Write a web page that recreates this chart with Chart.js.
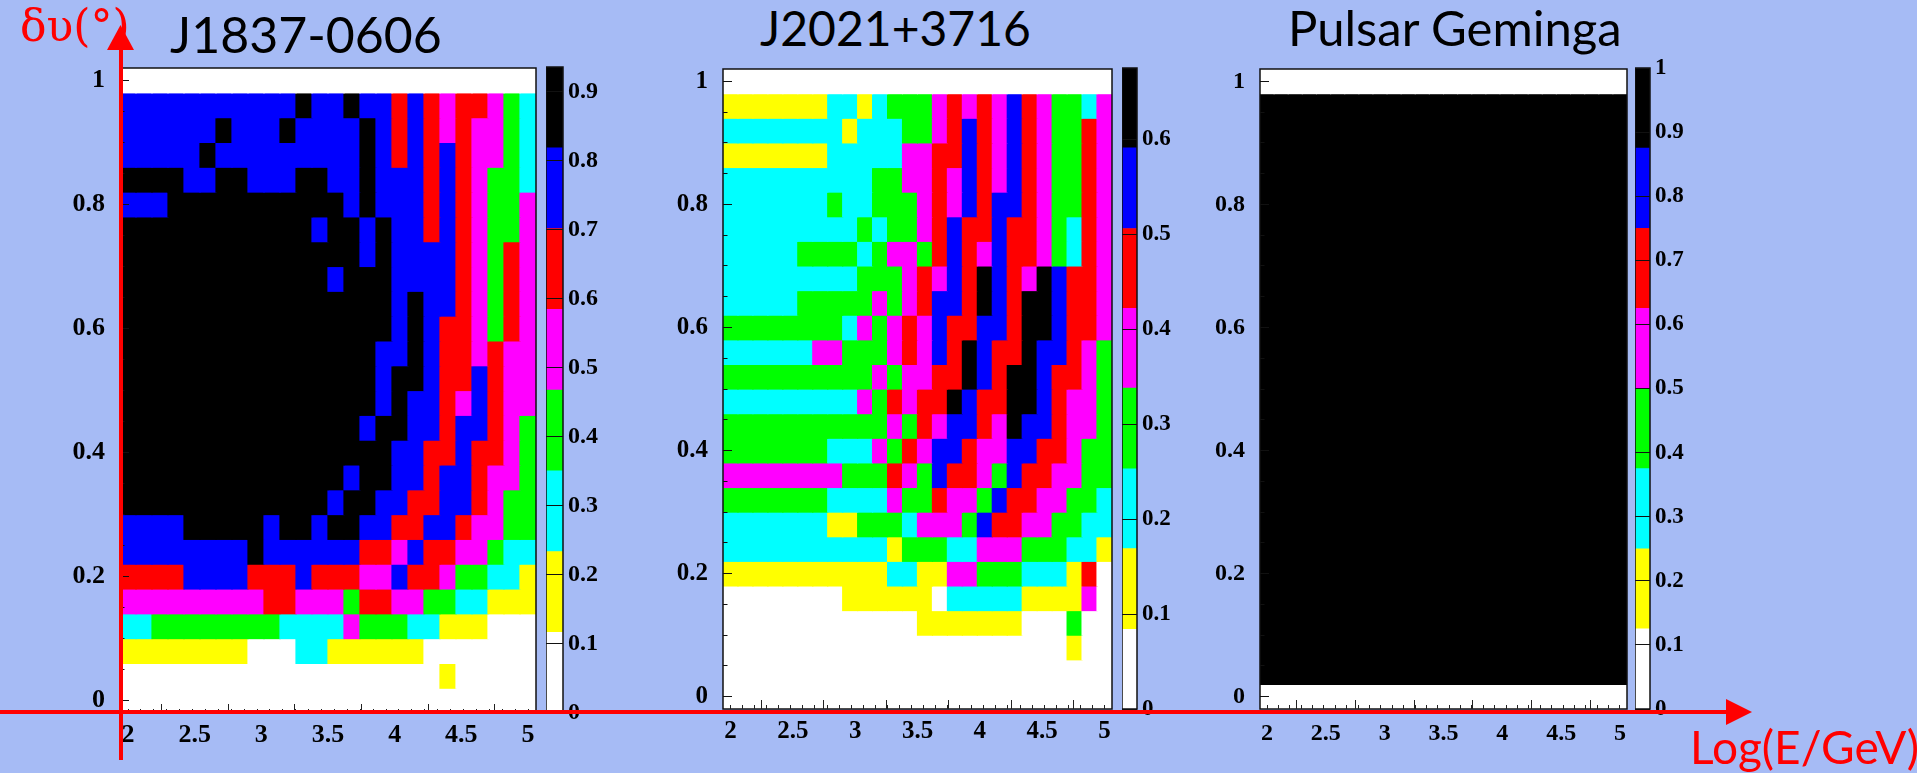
<!DOCTYPE html>
<html>
<head>
<meta charset="utf-8">
<title>Pulsar sky maps</title>
<script src="https://cdn.jsdelivr.net/npm/chart.js@4"></script>
<style>
    html, body { margin: 0; padding: 0; width: 1917px; height: 773px; overflow: hidden; background: #a6bbf5; }
    canvas { position: absolute; }
    .title { position: absolute; font-family: 'Lato', sans-serif; color: #000; white-space: nowrap; line-height: 1; }
    .redText { position: absolute; font-family: 'Lato', sans-serif; color: #f00; white-space: nowrap; line-height: 1; z-index: 5; }
    #arrows { position: absolute; left: 0; top: 0; z-index: 4; }
</style>
</head>
<body>
<canvas id="map1"></canvas><canvas id="bar1"></canvas>
<canvas id="map2"></canvas><canvas id="bar2"></canvas>
<canvas id="map3"></canvas><canvas id="bar3"></canvas>

<div class="title" style="left:170px;top:9px;font-size:50px">J1837-0606</div>
<div class="title" style="left:760px;top:4px;font-size:48px">J2021+3716</div>
<div class="title" style="left:1288px;top:3px;font-size:49px">Pulsar Geminga</div>
<div class="redText" style="left:20px;top:4px;font-size:44px;font-family:'DejaVu Serif',serif">δυ(°)</div>
<div class="redText" style="left:1690px;top:724px;font-size:46px">Log(E/GeV)</div>

<svg id="arrows" width="1917" height="773">
    <rect x="119" y="40" width="4" height="720" fill="#f00"/>
    <polygon points="120.5,25 107,50 134,50" fill="#f00"/>
    <rect x="0" y="710" width="1730" height="4" fill="#f00"/>
    <polygon points="1752,712 1726,699 1726,725" fill="#f00"/>
</svg>

<script>
// bin centres, shared by the three maps
const energyBins = [2.00, 2.12, 2.24, 2.36, 2.48, 2.60, 2.72, 2.84, 2.96, 3.08, 3.20, 3.32, 3.44,
    3.56, 3.68, 3.80, 3.92, 4.04, 4.16, 4.28, 4.40, 4.52, 4.64, 4.76, 4.88, 5.00];
const offsetBins = [1.00, 0.96, 0.92, 0.88, 0.84, 0.80, 0.76, 0.72, 0.68, 0.64, 0.60, 0.56, 0.52,
    0.48, 0.44, 0.40, 0.36, 0.32, 0.28, 0.24, 0.20, 0.16, 0.12, 0.08, 0.04, 0.00];

// colour band of each cell: 0 lowest ... 7 highest. Rows go top to bottom
const j1837Cells = [
    [0,0,0,0,0,0,0,0,0,0,0,0,0,0,0,0,0,0,0,0,0,0,0,0,0,0],
    [6,6,6,6,6,6,6,6,6,6,6,7,6,6,7,6,6,5,6,5,4,5,5,4,3,2],
    [6,6,6,6,6,6,7,6,6,6,7,6,6,6,6,7,6,5,6,5,4,5,4,4,3,2],
    [6,6,6,6,6,7,6,6,6,6,6,6,6,6,6,7,6,5,6,5,6,5,4,4,3,2],
    [7,7,7,7,6,6,7,7,6,6,6,7,7,6,6,7,6,6,6,5,6,5,4,3,3,2],
    [6,6,6,7,7,7,7,7,7,7,7,7,7,7,6,7,6,6,6,5,6,5,4,3,3,4],
    [7,7,7,7,7,7,7,7,7,7,7,7,6,7,7,6,7,6,6,5,6,5,4,3,3,4],
    [7,7,7,7,7,7,7,7,7,7,7,7,7,7,7,6,7,6,6,6,6,5,4,3,5,4],
    [7,7,7,7,7,7,7,7,7,7,7,7,7,6,7,7,7,6,6,6,6,5,4,3,5,4],
    [7,7,7,7,7,7,7,7,7,7,7,7,7,7,7,7,7,6,7,6,6,5,4,3,5,4],
    [7,7,7,7,7,7,7,7,7,7,7,7,7,7,7,7,7,6,7,6,5,5,4,3,5,4],
    [7,7,7,7,7,7,7,7,7,7,7,7,7,7,7,7,6,6,7,6,5,5,4,5,4,4],
    [7,7,7,7,7,7,7,7,7,7,7,7,7,7,7,7,6,7,7,6,5,5,6,5,4,4],
    [7,7,7,7,7,7,7,7,7,7,7,7,7,7,7,7,6,7,6,6,5,4,6,5,4,4],
    [7,7,7,7,7,7,7,7,7,7,7,7,7,7,7,6,7,7,6,6,5,6,6,5,4,3],
    [7,7,7,7,7,7,7,7,7,7,7,7,7,7,7,7,7,6,6,5,5,6,5,5,4,3],
    [7,7,7,7,7,7,7,7,7,7,7,7,7,7,6,7,7,6,6,5,6,6,5,4,4,3],
    [7,7,7,7,7,7,7,7,7,7,7,7,7,6,7,7,6,6,5,5,6,6,5,4,3,3],
    [6,6,6,6,7,7,7,7,7,6,7,7,6,7,7,6,6,5,5,6,6,5,4,4,3,3],
    [6,6,6,6,6,6,6,6,7,6,6,6,6,6,6,5,5,4,6,5,5,4,4,3,2,2],
    [5,5,5,5,6,6,6,6,5,5,5,6,5,5,5,4,4,6,5,5,4,3,3,2,2,1],
    [4,4,4,4,4,4,4,4,4,5,5,4,4,4,3,5,5,4,4,3,3,2,2,1,1,1],
    [2,2,3,3,3,3,3,3,3,3,2,2,2,2,4,3,3,3,2,2,1,1,1,0,0,0],
    [1,1,1,1,1,1,1,1,0,0,0,2,2,1,1,1,1,1,1,0,0,0,0,0,0,0],
    [0,0,0,0,0,0,0,0,0,0,0,0,0,0,0,0,0,0,0,0,1,0,0,0,0,0],
    [0,0,0,0,0,0,0,0,0,0,0,0,0,0,0,0,0,0,0,0,0,0,0,0,0,0]
];
const j2021Cells = [
    [0,0,0,0,0,0,0,0,0,0,0,0,0,0,0,0,0,0,0,0,0,0,0,0,0,0],
    [1,1,1,1,1,1,1,2,2,1,2,3,3,3,4,5,4,5,4,6,5,4,3,3,2,4],
    [2,2,2,2,2,2,2,2,1,2,2,2,3,3,4,5,6,5,4,6,5,4,3,3,5,4],
    [1,1,1,1,1,1,1,2,2,2,2,2,4,4,5,5,6,5,4,6,5,4,3,3,5,4],
    [2,2,2,2,2,2,2,2,2,2,3,3,4,4,5,4,6,5,4,6,5,4,3,3,5,4],
    [2,2,2,2,2,2,2,3,2,2,3,3,3,4,5,4,6,5,6,6,5,4,3,3,5,4],
    [2,2,2,2,2,2,2,2,2,3,2,3,3,4,5,6,5,5,6,5,5,4,3,2,5,4],
    [2,2,2,2,2,3,3,3,3,2,3,4,4,3,5,6,5,4,6,5,5,4,3,2,5,4],
    [2,2,2,2,2,2,2,2,2,3,3,3,4,5,4,6,5,7,6,5,4,7,6,5,5,4],
    [2,2,2,2,2,3,3,3,3,3,4,3,4,5,6,6,5,7,6,5,7,7,6,5,5,4],
    [3,3,3,3,3,3,3,3,2,4,3,4,5,4,6,5,5,6,6,5,7,7,6,5,5,4],
    [2,2,2,2,2,2,4,4,3,3,3,4,5,4,6,5,7,6,5,5,7,6,6,5,4,3],
    [3,3,3,3,3,3,3,3,3,3,4,3,4,4,5,5,7,6,5,7,7,6,5,5,4,3],
    [2,2,2,2,2,2,2,2,2,4,3,5,4,5,5,7,6,5,5,7,7,6,5,4,4,3],
    [3,3,3,3,3,3,3,3,3,3,3,4,3,5,4,6,6,5,4,7,6,6,5,4,4,3],
    [3,3,3,3,3,3,3,2,2,2,4,3,5,4,6,6,5,4,4,6,6,5,5,4,3,3],
    [4,4,4,4,4,4,4,4,3,3,3,5,4,3,6,5,5,4,3,6,5,5,4,4,3,3],
    [3,3,3,3,3,3,3,2,2,2,2,4,3,3,5,4,4,3,6,5,5,4,4,3,3,2],
    [2,2,2,2,2,2,2,1,1,3,3,3,2,4,4,4,3,6,5,5,4,4,3,3,2,2],
    [2,2,2,2,2,2,2,2,2,2,2,1,3,3,3,2,2,4,4,4,3,3,3,2,2,1],
    [1,1,1,1,1,1,1,1,1,1,1,2,2,1,1,4,4,3,3,3,2,2,2,1,5,0],
    [0,0,0,0,0,0,0,0,1,1,1,1,1,1,0,2,2,2,2,2,1,1,1,1,4,0],
    [0,0,0,0,0,0,0,0,0,0,0,0,0,1,1,1,1,1,1,1,0,0,0,3,0,0],
    [0,0,0,0,0,0,0,0,0,0,0,0,0,0,0,0,0,0,0,0,0,0,0,1,0,0],
    [0,0,0,0,0,0,0,0,0,0,0,0,0,0,0,0,0,0,0,0,0,0,0,0,0,0],
    [0,0,0,0,0,0,0,0,0,0,0,0,0,0,0,0,0,0,0,0,0,0,0,0,0,0]
];
const gemingaCells = [
    [0,0,0,0,0,0,0,0,0,0,0,0,0,0,0,0,0,0,0,0,0,0,0,0,0,0],
    [7,7,7,7,7,7,7,7,7,7,7,7,7,7,7,7,7,7,7,7,7,7,7,7,7,7],
    [7,7,7,7,7,7,7,7,7,7,7,7,7,7,7,7,7,7,7,7,7,7,7,7,7,7],
    [7,7,7,7,7,7,7,7,7,7,7,7,7,7,7,7,7,7,7,7,7,7,7,7,7,7],
    [7,7,7,7,7,7,7,7,7,7,7,7,7,7,7,7,7,7,7,7,7,7,7,7,7,7],
    [7,7,7,7,7,7,7,7,7,7,7,7,7,7,7,7,7,7,7,7,7,7,7,7,7,7],
    [7,7,7,7,7,7,7,7,7,7,7,7,7,7,7,7,7,7,7,7,7,7,7,7,7,7],
    [7,7,7,7,7,7,7,7,7,7,7,7,7,7,7,7,7,7,7,7,7,7,7,7,7,7],
    [7,7,7,7,7,7,7,7,7,7,7,7,7,7,7,7,7,7,7,7,7,7,7,7,7,7],
    [7,7,7,7,7,7,7,7,7,7,7,7,7,7,7,7,7,7,7,7,7,7,7,7,7,7],
    [7,7,7,7,7,7,7,7,7,7,7,7,7,7,7,7,7,7,7,7,7,7,7,7,7,7],
    [7,7,7,7,7,7,7,7,7,7,7,7,7,7,7,7,7,7,7,7,7,7,7,7,7,7],
    [7,7,7,7,7,7,7,7,7,7,7,7,7,7,7,7,7,7,7,7,7,7,7,7,7,7],
    [7,7,7,7,7,7,7,7,7,7,7,7,7,7,7,7,7,7,7,7,7,7,7,7,7,7],
    [7,7,7,7,7,7,7,7,7,7,7,7,7,7,7,7,7,7,7,7,7,7,7,7,7,7],
    [7,7,7,7,7,7,7,7,7,7,7,7,7,7,7,7,7,7,7,7,7,7,7,7,7,7],
    [7,7,7,7,7,7,7,7,7,7,7,7,7,7,7,7,7,7,7,7,7,7,7,7,7,7],
    [7,7,7,7,7,7,7,7,7,7,7,7,7,7,7,7,7,7,7,7,7,7,7,7,7,7],
    [7,7,7,7,7,7,7,7,7,7,7,7,7,7,7,7,7,7,7,7,7,7,7,7,7,7],
    [7,7,7,7,7,7,7,7,7,7,7,7,7,7,7,7,7,7,7,7,7,7,7,7,7,7],
    [7,7,7,7,7,7,7,7,7,7,7,7,7,7,7,7,7,7,7,7,7,7,7,7,7,7],
    [7,7,7,7,7,7,7,7,7,7,7,7,7,7,7,7,7,7,7,7,7,7,7,7,7,7],
    [7,7,7,7,7,7,7,7,7,7,7,7,7,7,7,7,7,7,7,7,7,7,7,7,7,7],
    [7,7,7,7,7,7,7,7,7,7,7,7,7,7,7,7,7,7,7,7,7,7,7,7,7,7],
    [7,7,7,7,7,7,7,7,7,7,7,7,7,7,7,7,7,7,7,7,7,7,7,7,7,7],
    [0,0,0,0,0,0,0,0,0,0,0,0,0,0,0,0,0,0,0,0,0,0,0,0,0,0]
];

// edges of the colour bands on each colour bar
const j1837Bands = [0, 0.117, 0.234, 0.351, 0.468, 0.585, 0.702, 0.819, 0.936];
const j2021Bands = [0, 0.084, 0.169, 0.253, 0.338, 0.422, 0.506, 0.591, 0.675];
const gemingaBands = [0, 0.125, 0.25, 0.375, 0.5, 0.625, 0.75, 0.875, 1];

const bandColors = ['#ffffff', '#ffff00', '#00ffff', '#00ff00', '#ff00ff', '#ff0000', '#0000ff', '#000000'];

const binHalfHeight = 0.02;
const labelFont = 'Liberation Serif';

function placeCanvas(canvas, left, top, width, height) {
    canvas.width = width;
    canvas.height = height;
    canvas.style.left = left + 'px';
    canvas.style.top = top + 'px';
}

// tick padding also counts as scale padding in the layout, which would shrink the plot
function clearPadding(scale) {
    scale.paddingTop = 0;
    scale.paddingBottom = 0;
    scale.paddingLeft = 0;
    scale.paddingRight = 0;
}

// black box round the plot, drawn over the cells
const frameBox = {
    id: 'frameBox',
    afterDatasetsDraw(chart) {
        const a = chart.chartArea;
        chart.ctx.save();
        chart.ctx.strokeStyle = '#111';
        chart.ctx.lineWidth = 1.5;
        chart.ctx.strokeRect(a.left, a.top, a.right - a.left, a.bottom - a.top);
        chart.ctx.restore();
    }
};

function renderMap(id, cells, box, fontSize, xPadding) {
    const padLeft = 70, padBottom = 48, padTop = 2, padRight = 2;
    const canvas = document.getElementById(id);
    placeCanvas(canvas, box.left - padLeft, box.top - padTop,
        padLeft + box.right - box.left + padRight, padTop + box.bottom - box.top + padBottom);

    const datasets = cells.map((row, r) => ({
        data: row.map((band, c) => ({
            x: energyBins[c],
            y: [offsetBins[r] - binHalfHeight, offsetBins[r] + binHalfHeight]
        })),
        backgroundColor: row.map(band => bandColors[band]),
        borderWidth: 0,
        inflateAmount: 0.6,
        grouped: false,
        barPercentage: 1,
        categoryPercentage: 1
    }));

    const tickFont = { family: labelFont, size: fontSize, weight: 'bold' };
    const xRange = { type: 'linear', min: 1.94, max: 5.06 };
    const yRange = { type: 'linear', min: -0.02, max: 1.02 };

    new Chart(canvas, {
        type: 'bar',
        data: { datasets: datasets },
        options: {
            responsive: false,
            animation: false,
            layout: { autoPadding: false, padding: { top: padTop, right: padRight } },
            plugins: { legend: { display: false }, tooltip: { enabled: false } },
            scales: {
                x: {
                    ...xRange,
                    position: 'bottom',
                    offset: false,
                    afterFit: s => { s.height = padBottom; clearPadding(s); },
                    border: { display: false },
                    grid: { z: 2, drawOnChartArea: false, tickLength: -9, tickColor: '#222', tickWidth: 1 },
                    ticks: {
                        stepSize: 0.5, includeBounds: false, autoSkip: false, maxRotation: 0,
                        padding: xPadding, color: '#000', font: tickFont, callback: v => String(v)
                    }
                },
                xMinor: {
                    ...xRange,
                    position: 'bottom',
                    weight: -1,
                    afterFit: s => { s.height = 0; clearPadding(s); },
                    border: { display: false },
                    grid: { z: 2, drawOnChartArea: false, tickLength: -4, tickColor: '#222', tickWidth: 1 },
                    ticks: { display: false, stepSize: 0.1, includeBounds: false, autoSkip: false }
                },
                y: {
                    ...yRange,
                    position: 'left',
                    afterFit: s => { s.width = padLeft; clearPadding(s); },
                    border: { display: false },
                    grid: { z: 2, drawOnChartArea: false, tickLength: -9, tickColor: '#111', tickWidth: 1 },
                    ticks: {
                        stepSize: 0.2, includeBounds: false, autoSkip: false,
                        padding: 24, color: '#000', font: tickFont, callback: v => String(v)
                    }
                },
                yMinor: {
                    ...yRange,
                    position: 'left',
                    weight: -1,
                    afterFit: s => { s.width = 0; clearPadding(s); },
                    border: { display: false },
                    grid: { z: 2, drawOnChartArea: false, tickLength: -4.5, tickColor: '#111', tickWidth: 1 },
                    ticks: { display: false, stepSize: 0.05, includeBounds: false, autoSkip: false }
                }
            }
        },
        plugins: [frameBox]
    });
}

function renderColorBar(id, bands, box, fontSize) {
    const padTop = 14, padBottom = 20, padRight = 44;
    const canvas = document.getElementById(id);
    placeCanvas(canvas, box.left, box.top - padTop,
        box.right - box.left + padRight, padTop + box.bottom - box.top + padBottom);

    const datasets = bandColors.map((color, i) => ({
        data: [[bands[i], bands[i + 1]]],
        backgroundColor: color,
        borderWidth: 0,
        grouped: false,
        barPercentage: 1,
        categoryPercentage: 1
    }));

    new Chart(canvas, {
        type: 'bar',
        data: { labels: [''], datasets: datasets },
        options: {
            responsive: false,
            animation: false,
            layout: { autoPadding: false, padding: { top: padTop, bottom: padBottom } },
            plugins: { legend: { display: false }, tooltip: { enabled: false } },
            scales: {
                x: { display: false },
                y: {
                    position: 'right',
                    min: bands[0],
                    max: bands[bands.length - 1],
                    afterFit: s => { s.width = padRight; clearPadding(s); },
                    border: { display: false },
                    grid: { z: 2, color: '#111', lineWidth: 1, drawTicks: false },
                    ticks: {
                        stepSize: 0.1, includeBounds: false, autoSkip: false,
                        padding: 5, color: '#000', font: { family: labelFont, size: fontSize, weight: 'bold' },
                        callback: v => String(v)
                    }
                }
            }
        },
        plugins: [frameBox]
    });
}

renderMap('map1', j1837Cells, { left: 120, right: 536, top: 68, bottom: 713 }, 26, 16);
renderColorBar('bar1', j1837Bands, { left: 546, right: 563, top: 67, bottom: 713 }, 24);
renderMap('map2', j2021Cells, { left: 723, right: 1112, top: 69, bottom: 709 }, 25, 17);
renderColorBar('bar2', j2021Bands, { left: 1122, right: 1137, top: 68, bottom: 709 }, 23);
renderMap('map3', gemingaCells, { left: 1260, right: 1627, top: 69, bottom: 709 }, 24, 19);
renderColorBar('bar3', gemingaBands, { left: 1635, right: 1650, top: 68, bottom: 709 }, 23);
</script>
</body>
</html>
